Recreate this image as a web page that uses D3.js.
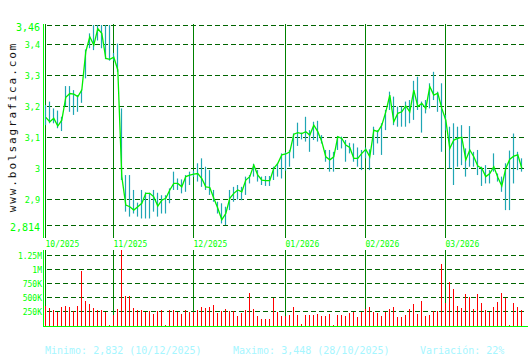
<!DOCTYPE html>
<html><head><meta charset="utf-8">
<script src="https://cdn.jsdelivr.net/npm/d3@7"></script>
<style>html,body{margin:0;padding:0;background:#fff;}svg{display:block;}</style>
</head><body>
<svg id="c" width="530" height="360"></svg>
<script>
const closes = [3.162,3.148,3.159,3.134,3.153,3.227,3.239,3.237,3.229,3.25,
3.374,3.422,3.395,3.448,3.433,3.352,3.349,3.356,3.315,2.971,
2.879,2.874,2.863,2.874,2.885,2.917,2.917,2.906,2.876,2.895,
2.901,2.928,2.949,2.949,2.938,2.971,2.976,2.979,2.981,2.965,
2.938,2.936,2.901,2.869,2.832,2.852,2.901,2.917,2.928,2.922,
2.96,2.971,3.008,2.976,2.96,2.958,2.958,2.998,3.014,3.041,
3.044,3.051,3.108,3.113,3.11,3.116,3.105,3.137,3.116,3.084,
3.035,3.025,3.035,3.10,3.094,3.073,3.065,3.03,3.03,3.046,
3.059,3.035,3.121,3.116,3.137,3.18,3.234,3.148,3.175,3.18,
3.199,3.18,3.25,3.197,3.207,3.191,3.261,3.234,3.24,3.191,
3.153,3.062,3.089,3.094,3.098,3.025,3.057,3.035,3.005,2.998,
2.971,2.981,3.003,2.969,2.941,2.998,3.027,3.037,3.041,2.998];
const highs = [3.202,3.213,3.191,3.184,3.164,3.263,3.263,3.25,3.234,3.252,
3.381,3.433,3.465,3.465,3.465,3.465,3.465,3.37,3.40,3.191,
2.976,2.976,2.928,2.887,2.928,2.92,2.919,2.928,2.919,2.911,
2.911,2.933,2.987,2.965,2.962,2.976,2.987,2.99,3.014,3.03,
3.003,2.992,2.928,2.89,2.885,2.874,2.928,2.938,2.944,2.938,
2.971,2.976,3.012,2.992,2.971,2.973,2.973,3.003,3.014,3.046,
3.05,3.057,3.11,3.145,3.113,3.164,3.121,3.148,3.151,3.105,
3.057,3.057,3.051,3.102,3.10,3.089,3.08,3.078,3.065,3.057,
3.065,3.059,3.132,3.121,3.143,3.186,3.245,3.229,3.197,3.197,
3.213,3.218,3.28,3.293,3.213,3.218,3.272,3.309,3.245,3.272,
3.17,3.132,3.143,3.132,3.137,3.062,3.134,3.051,3.057,3.003,
3.008,2.992,3.046,2.981,2.971,3.014,3.055,3.11,3.051,3.03];
const lows = [3.137,3.143,3.143,3.127,3.118,3.199,3.18,3.17,3.18,3.209,
3.288,3.385,3.379,3.41,3.385,3.35,3.345,3.345,3.309,2.96,
2.858,2.842,2.852,2.842,2.836,2.836,2.836,2.858,2.842,2.852,
2.852,2.885,2.928,2.928,2.917,2.922,2.944,2.97,2.955,2.938,
2.928,2.912,2.89,2.852,2.82,2.815,2.863,2.89,2.897,2.895,
2.912,2.949,2.971,2.955,2.944,2.941,2.941,2.96,2.971,2.965,
2.99,3.003,3.03,3.07,3.091,3.084,3.051,3.089,3.084,3.078,
3.019,2.987,2.987,3.057,3.062,3.019,3.046,3.019,3.003,2.992,
3.03,2.992,3.041,3.078,3.041,3.121,3.186,3.137,3.132,3.132,
3.132,3.143,3.154,3.186,3.113,3.175,3.191,3.218,3.18,3.051,
3.12,2.998,2.944,3.003,3.008,2.971,3.003,3.003,2.976,2.941,
2.949,2.949,2.987,2.955,2.922,2.863,2.863,2.949,2.992,2.987];
const volumes = [345,309,273,237,327,345,327,255,345,970,
434,386,309,273,273,237,5,178,291,1345,
523,523,309,273,273,237,255,200,255,273,
5,273,273,237,200,273,237,237,273,327,
309,327,363,219,255,291,255,255,166,219,
273,577,291,166,112,112,112,488,237,166,
166,184,327,184,23,184,184,184,200,166,
166,200,5,184,184,166,219,237,148,237,
291,327,237,219,166,237,291,327,148,148,
184,291,380,200,434,166,184,255,255,1095,
398,773,648,345,309,559,500,291,559,398,
273,237,327,416,577,488,5,398,327,273].map(v => v * 1000);
const monthLabels = ["10/2025","11/2025","12/2025","01/2026","02/2026","03/2026"];
const monthStarts = [0,17,37,60,80,100];
const priceTicks = [3.46,3.4,3.3,3.2,3.1,3,2.9,2.814];
const priceTickLabels = ["3,46","3,4","3,3","3,2","3,1","3","2,9","2,814"];
const volTicks = [1250000,1000000,750000,500000,250000];
const volTickLabels = ["1.25M","1M","750K","500K","250K"];
const footer = ["Minimo: 2,832 (10/12/2025)","Maximo: 3,448 (28/10/2025)","Variación: 22%"];

const svg = d3.select("#c");
const MONO = "'DejaVu Sans Mono', monospace";
const LIME = "#00ff00";
const GRID = "#006400";
const VLINE = "#008000";

const x = d3.scaleLinear().domain([0, closes.length - 1]).range([45.3, 521.3]);
const y = d3.scaleLinear().domain([2.814, 3.46]).range([225.3, 25]);
const yv = d3.scaleLinear().domain([0, 1250000]).range([325.3, 255]);
const px = v => Math.round(v) + 0.5;

svg.append("defs").append("clipPath").attr("id","pclip")
  .append("rect").attr("x",40).attr("y",25).attr("width",490).attr("height",215);

// price grid
svg.append("g").selectAll("line").data(priceTicks).join("line")
  .attr("x1",47).attr("x2",526)
  .attr("y1",d=>px(y(d))).attr("y2",d=>px(y(d)))
  .attr("stroke",GRID).attr("stroke-width",1).attr("stroke-dasharray","5,3")
  .attr("shape-rendering","crispEdges");
// volume grid
svg.append("g").selectAll("line").data(volTicks).join("line")
  .attr("x1",47).attr("x2",526)
  .attr("y1",d=>px(yv(d))).attr("y2",d=>px(yv(d)))
  .attr("stroke",GRID).attr("stroke-width",1).attr("stroke-dasharray","5,3")
  .attr("shape-rendering","crispEdges");

// month lines
const mg = svg.append("g");
mg.selectAll("line.p").data(monthStarts).join("line").attr("class","p")
  .attr("x1",d=>px(x(d))).attr("x2",d=>px(x(d))).attr("y1",24).attr("y2",238)
  .attr("stroke",VLINE).attr("stroke-width",1).attr("shape-rendering","crispEdges");
mg.selectAll("line.v").data(monthStarts).join("line").attr("class","v")
  .attr("x1",d=>px(x(d))).attr("x2",d=>px(x(d))).attr("y1",250).attr("y2",326)
  .attr("stroke",VLINE).attr("stroke-width",1).attr("shape-rendering","crispEdges");
mg.selectAll("text").data(monthStarts).join("text")
  .attr("x",d=>Math.round(x(d))+0.5).attr("y",247)
  .attr("font-family",MONO).attr("font-size",8).attr("fill",LIME)
  .text((d,i)=>monthLabels[i]);

// axis lines
svg.append("line").attr("x1",43.5).attr("x2",43.5).attr("y1",24).attr("y2",238)
  .attr("stroke",LIME).attr("stroke-width",1).attr("shape-rendering","crispEdges");
svg.append("line").attr("x1",43.5).attr("x2",43.5).attr("y1",250).attr("y2",326)
  .attr("stroke",LIME).attr("stroke-width",1).attr("shape-rendering","crispEdges");
svg.append("line").attr("x1",43).attr("x2",528).attr("y1",326.5).attr("y2",326.5)
  .attr("stroke",LIME).attr("stroke-width",1).attr("shape-rendering","crispEdges");

// price labels
svg.append("g").selectAll("text").data(priceTicks).join("text")
  .attr("x",40).attr("y",d=>y(d)+ ((d===3.46||d===2.814)?5.5:4.3))
  .attr("text-anchor","end").attr("font-family",MONO)
  .attr("font-size",(d)=>(d===3.46||d===2.814)?10:8.5)
  .attr("fill",LIME).text((d,i)=>priceTickLabels[i]);
// volume labels
svg.append("g").selectAll("text").data(volTicks).join("text")
  .attr("x",42).attr("y",d=>yv(d)+3.5)
  .attr("text-anchor","end").attr("font-family",MONO).attr("font-size",8)
  .attr("fill",LIME).text((d,i)=>volTickLabels[i]);

// high-low bars
const pg = svg.append("g").attr("clip-path","url(#pclip)");
pg.selectAll("line").data(closes).join("line")
  .attr("x1",(d,i)=>px(x(i))).attr("x2",(d,i)=>px(x(i)))
  .attr("y1",(d,i)=>y(highs[i])).attr("y2",(d,i)=>y(lows[i]))
  .attr("stroke","#1fa6b4").attr("stroke-width",1.2);
// close line
pg.append("path").datum(closes)
  .attr("d", d3.line().x((d,i)=>x(i)+0.5).y(d=>y(d)))
  .attr("fill","none").attr("stroke","#00ee00").attr("stroke-width",1.3);

// volume bars
svg.append("g").selectAll("line").data(volumes).join("line")
  .attr("x1",(d,i)=>px(x(i))).attr("x2",(d,i)=>px(x(i)))
  .attr("y1",326).attr("y2",d=>yv(d))
  .attr("stroke","#ff0000").attr("stroke-width",1).attr("shape-rendering","crispEdges");

// vertical title
svg.append("text").attr("transform","translate(15.5,127) rotate(-90)")
  .attr("text-anchor","middle").attr("font-family",MONO).attr("font-size",11)
  .attr("letter-spacing",1.9).attr("fill","#111").text("www.bolsagrafica.com");

// footer
const fx = [45, 233, 420];
svg.append("g").selectAll("text").data(footer).join("text")
  .attr("x",(d,i)=>fx[i]).attr("y",354)
  .attr("font-family",MONO).attr("font-size",10).attr("fill","#a6f6ff")
  .text(d=>d);
</script>
</body></html>
